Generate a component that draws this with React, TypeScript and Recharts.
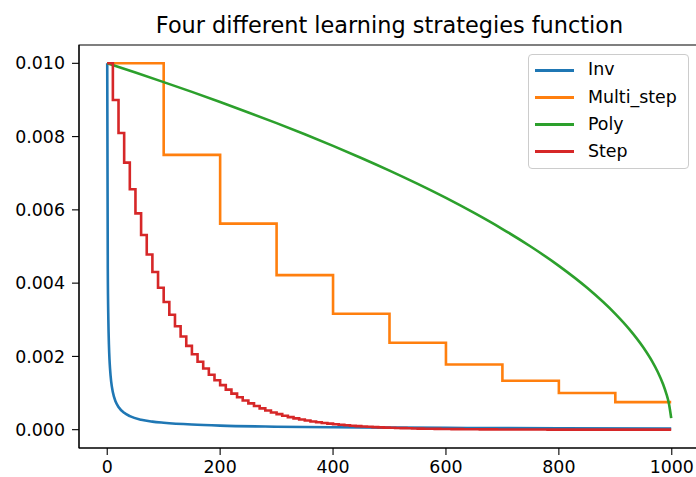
import React from 'react';
import {
  LineChart,
  Line,
  XAxis,
  YAxis,
  Legend,
  ReferenceArea
} from 'recharts';

// iterations where each curve was sampled
const invIters = [0, 1, 2, 3, 4, 5, 7, 10, 15, 20, 30, 40, 60, 80, 100, 150, 200, 300, 400, 500, 600, 800, 999];
const invValues = [
  0.01, 0.00439, 0.00299, 0.00232, 0.00192, 0.00166, 0.00131, 0.00102, 0.00076, 0.00062, 0.00046,
  0.00037, 0.00027, 0.00022, 0.00019, 0.00014, 0.00011, 0.000082, 0.000066, 0.000056, 0.000049,
  0.00004, 0.000034
];

const multiIters = [0, 100, 200, 300, 400, 500, 600, 700, 800, 900, 999];
const multiValues = [
  0.01, 0.0075, 0.005625, 0.004219, 0.003164, 0.002373, 0.00178, 0.001335, 0.001001, 0.000751, 0.000751
];

const polyIters = [0, 50, 100, 150, 200, 250, 300, 350, 400, 450, 500, 550, 600, 650, 700, 750, 800, 850, 900, 925, 950, 965, 975, 985, 990, 995, 999];
const polyValues = [
  0.01, 0.009747, 0.009487, 0.00922, 0.008944, 0.00866, 0.008367, 0.008062, 0.007746, 0.007416,
  0.007071, 0.006708, 0.006325, 0.005916, 0.005477, 0.005, 0.004472, 0.003873, 0.003162, 0.002739,
  0.002236, 0.001871, 0.001581, 0.001225, 0.001, 0.000707, 0.000316
];

// step policy: one level every 10 iterations
const stepEvery = 10;
const stepValues = [
  0.01, 0.009, 0.0081, 0.00729, 0.006561, 0.005905, 0.005314, 0.004783, 0.004305, 0.003874,
  0.003487, 0.003138, 0.002824, 0.002542, 0.002288, 0.002059, 0.001853, 0.001668, 0.001501, 0.001351,
  0.001216, 0.001094, 0.000985, 0.000886, 0.000798, 0.000718, 0.000646, 0.000581, 0.000523, 0.000471,
  0.000424, 0.000382, 0.000343, 0.000309, 0.000278, 0.00025, 0.000225, 0.000203, 0.000182, 0.000164,
  0.000148, 0.000133, 0.00012, 0.000108, 0.000097, 0.000087, 0.000079, 0.000071, 0.000064, 0.000057,
  0.000052, 0.000046, 0.000042, 0.000038, 0.000034, 0.00003, 0.000027, 0.000025, 0.000022, 0.00002,
  0.000018, 0.000016, 0.000015, 0.000013, 0.000012, 0.000011, 0.0000096, 0.0000086, 0.0000077, 0.000007,
  0.0000063, 0.0000056, 0.0000051, 0.0000046, 0.0000041, 0.0000037, 0.0000033, 0.000003, 0.0000027, 0.0000024,
  0.0000022, 0.000002, 0.0000018, 0.0000016, 0.0000014, 0.0000013, 0.0000012, 0.000001, 0.00000094, 0.00000085,
  0.00000076, 0.00000069, 0.00000062, 0.00000056, 0.0000005, 0.00000045, 0.0000004, 0.00000036, 0.00000033, 0.0000003
];

const xTicks = [0, 200, 400, 600, 800, 1000];
const yTicks = [0, 0.002, 0.004, 0.006, 0.008, 0.01];

const seriesNames = ['Inv', 'Multi_step', 'Poly', 'Step'];
const colors = ['#1f77b4', '#ff7f0e', '#2ca02c', '#d62728'];

const toPoints = (iters: number[], values: number[]) =>
  iters.map((it, i) => ({ iter: it, lr: values[i] }));

const invData = toPoints(invIters, invValues);
const multiData = toPoints(multiIters, multiValues);
const polyData = toPoints(polyIters, polyValues);
const stepData = [
  ...stepValues.map((v, i) => ({ iter: i * stepEvery, lr: v })),
  { iter: 999, lr: stepValues[stepValues.length - 1] }
];

const FONT = '"DejaVu Sans", sans-serif';
const ROW = 27.2;

function LegendBox({ payload }: any) {
  return (
    <div
      style={{
        position: 'relative',
        width: 161,
        height: 115,
        boxSizing: 'border-box',
        border: '1px solid #cccccc',
        borderRadius: 4,
        background: 'rgba(255,255,255,0.8)',
        fontFamily: FONT,
        fontSize: 17.4,
        color: '#000'
      }}
    >
      {(payload || []).map((p: any, i: number) => {
        const mid = 15 + i * ROW;
        return (
          <React.Fragment key={p.value}>
            <div style={{ position: 'absolute', left: 6, top: Math.round(mid - 1.5), width: 39, height: 3, background: p.color }} />
            <div style={{ position: 'absolute', left: 59, top: mid - ROW / 2, lineHeight: ROW + 'px', whiteSpace: 'nowrap' }}>{p.value}</div>
          </React.Fragment>
        );
      })}
    </div>
  );
}

export default function App() {
  return (
    <div style={{ position: 'fixed', left: 0, top: 0, width: 696, height: 477, overflow: 'hidden', background: '#fff' }}>
      <div
        style={{
          position: 'absolute',
          left: 79,
          width: 621,
          top: 12,
          textAlign: 'center',
          fontFamily: FONT,
          fontSize: 22.4,
          lineHeight: 'normal',
          color: '#000',
          whiteSpace: 'nowrap'
        }}
      >
        Four different learning strategies function
      </div>
      <div style={{ position: 'absolute', left: 0, top: 0 }}>
        <LineChart width={720} height={477} margin={{ top: 45, right: 20, bottom: 0, left: 0 }}>
          <XAxis
            dataKey="iter"
            type="number"
            domain={[-50, 1050]}
            ticks={xTicks}
            allowDataOverflow
            height={29}
            tickSize={7}
            tickMargin={6}
            axisLine={{ stroke: '#000', strokeWidth: 1.1 }}
            tickLine={{ stroke: '#000', strokeWidth: 1.1 }}
            tick={{ fill: '#000', fontSize: 17.4, fontFamily: FONT }}
          />
          <YAxis
            type="number"
            domain={[-0.0005, 0.0105]}
            ticks={yTicks}
            allowDataOverflow
            width={79}
            tickSize={7}
            tickMargin={7}
            tickFormatter={(v: number) => v.toFixed(3)}
            axisLine={{ stroke: '#000', strokeWidth: 1.1 }}
            tickLine={{ stroke: '#000', strokeWidth: 1.1 }}
            tick={{ fill: '#000', fontSize: 17.4, fontFamily: FONT }}
          />
          <ReferenceArea
            x1={-50}
            x2={1050}
            y1={-0.0005}
            y2={0.0105}
            fill="none"
            stroke="#000"
            strokeWidth={1.1}
            ifOverflow="visible"
          />
          <Line data={invData} dataKey="lr" name={seriesNames[0]} type="monotone" stroke={colors[0]} strokeWidth={2.6} dot={false} isAnimationActive={false} />
          <Line data={multiData} dataKey="lr" name={seriesNames[1]} type="stepAfter" stroke={colors[1]} strokeWidth={2.6} dot={false} isAnimationActive={false} />
          <Line data={polyData} dataKey="lr" name={seriesNames[2]} type="monotone" stroke={colors[2]} strokeWidth={2.6} dot={false} isAnimationActive={false} />
          <Line data={stepData} dataKey="lr" name={seriesNames[3]} type="stepAfter" stroke={colors[3]} strokeWidth={2.6} dot={false} isAnimationActive={false} />
          <Legend
            layout="vertical"
            align="center"
            verticalAlign="middle"
            wrapperStyle={{ left: 528, top: 54, width: 161, height: 115 }}
            content={<LegendBox />}
          />
        </LineChart>
      </div>
    </div>
  );
}
